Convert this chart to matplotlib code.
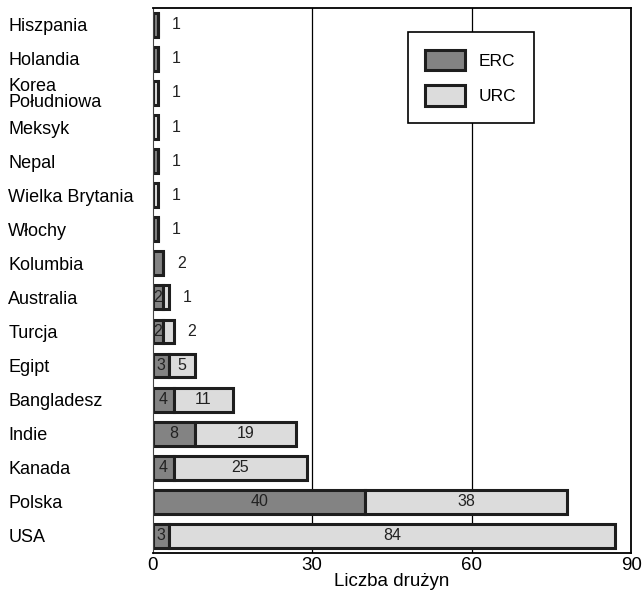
import numpy as np
import matplotlib
matplotlib.use('Agg')
from matplotlib import pyplot as plt
from matplotlib.patches import Patch

plt.rcParams['font.family'] = ['Liberation Sans', 'DejaVu Sans']

countries = ['Hiszpania', 'Holandia', 'Korea\nPołudniowa', 'Meksyk', 'Nepal',
             'Wielka Brytania', 'Włochy', 'Kolumbia', 'Australia', 'Turcja',
             'Egipt', 'Bangladesz', 'Indie', 'Kanada', 'Polska', 'USA']
erc = [1, 1, 0, 0, 1, 0, 1, 2, 2, 2, 3, 4, 8, 4, 40, 3]
urc = [0, 0, 1, 1, 0, 1, 0, 0, 1, 2, 5, 11, 19, 25, 38, 84]

dark = '#838383'
light = '#dcdcdc'
edge = '#1e1e1e'

fig = plt.figure(figsize=(6.42, 5.95), dpi=100)
ax = fig.add_axes([0.238, 0.0706, 0.745, 0.9164])

y = np.arange(len(countries))
erc = np.array(erc)
urc = np.array(urc)

for xv in [30, 60]:
    ax.axvline(xv, color='black', linewidth=0.9, zorder=0)

ax.barh(y, erc, height=0.7, color=dark, edgecolor=edge, linewidth=2.2, zorder=2)
ax.barh(y, urc, left=erc, height=0.7, color=light, edgecolor=edge, linewidth=2.2, zorder=2)

# labels: inside the segment if it fits, otherwise to the right of the bar
for i in range(len(countries)):
    segs = [(0, erc[i]), (erc[i], urc[i])]
    nz = [s for s in segs if s[1] > 0]
    for k, (left, v) in enumerate(nz):
        last = (k == len(nz) - 1)
        if v >= 3 or not last:
            ax.text(left + v / 2, i, str(v), ha='center', va='center',
                    fontsize=11.5, color='#222222', zorder=3)
        else:
            ax.text(left + v + 3.4, i, str(v), ha='center', va='center',
                    fontsize=11.5, color='#222222', zorder=3)

ax.set_xlim(0, 90)
ax.set_ylim(len(countries) - 0.5, -0.5)
ax.set_xticks([0, 30, 60, 90])
ax.set_yticks(y)
ax.set_yticklabels(countries, ha='left', fontsize=13, linespacing=0.9)
ax.tick_params(axis='y', length=0, pad=104)
ax.tick_params(axis='x', length=0, pad=3, labelsize=13.5)
ax.set_xlabel('Liczba drużyn', fontsize=13.5, labelpad=-1)

for s in ['top', 'right', 'bottom']:
    ax.spines[s].set_linewidth(1.3)
    ax.spines[s].set_color('black')
ax.spines['left'].set_linewidth(0.8)
ax.spines['left'].set_color('#444444')

handles = [Patch(facecolor=dark, edgecolor=edge, linewidth=2.2, label='ERC'),
           Patch(facecolor=light, edgecolor=edge, linewidth=2.2, label='URC')]
leg = ax.legend(handles=handles, loc='upper left', bbox_to_anchor=(0.533, 0.955),
                borderaxespad=0, fontsize=12.5, handlelength=2.3, handleheight=1.45,
                handletextpad=0.8, labelspacing=0.85, borderpad=1.0,
                fancybox=False, framealpha=1, edgecolor='black')
leg.get_frame().set_linewidth(1.2)

plt.savefig('out.png', dpi=100)
